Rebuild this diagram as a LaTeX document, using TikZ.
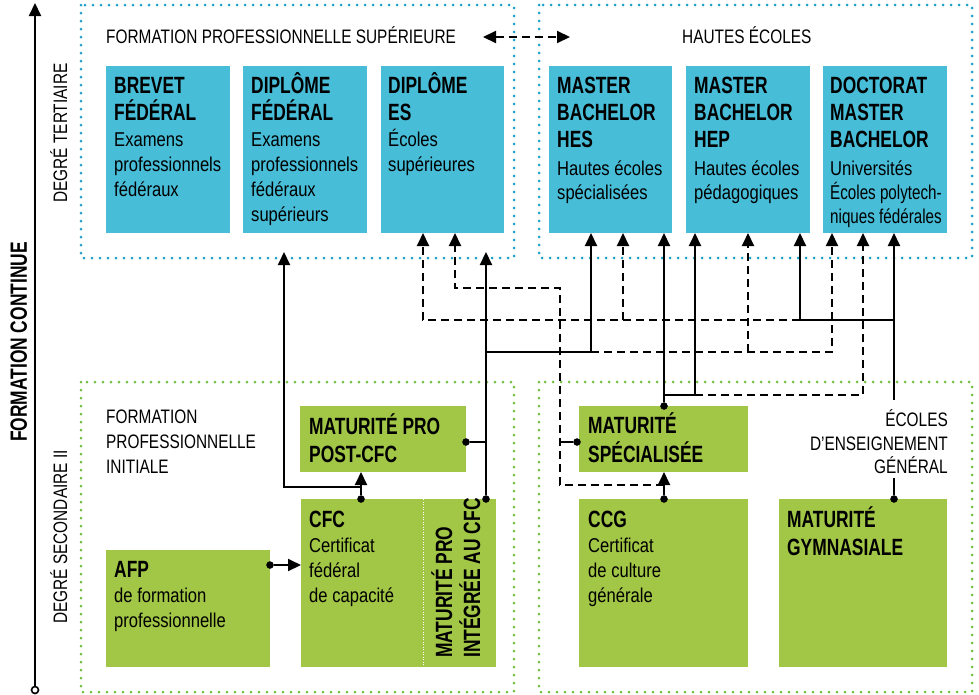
\documentclass[tikz,border=0pt]{standalone}
\usepackage{fontspec}
\setmainfont{Liberation Sans}
\newfontfamily\regf{Liberation Sans}[FakeStretch=0.83]
\newfontfamily\regn{Liberation Sans}[FakeStretch=0.76]
\newfontfamily\labf{Liberation Sans}[FakeStretch=0.79]
\newfontfamily\boldf{Liberation Sans}[FakeStretch=0.74]
\usetikzlibrary{arrows.meta}
\definecolor{tblue}{HTML}{47BDD8}
\definecolor{dblue}{HTML}{1E9FC8}
\definecolor{tgreen}{HTML}{A2C646}
\definecolor{dgreen}{HTML}{74BE3F}
\begin{document}
\begin{tikzpicture}[x=1pt,y=-1pt,
  bbox/.style={fill=tblue, draw=none, inner sep=0, outer sep=0, anchor=north west},
  gbox/.style={fill=tgreen, draw=none, inner sep=0, outer sep=0, anchor=north west},
  tb/.style={font=\boldf\bfseries\fontsize{23.5}{27}\selectfont, inner sep=0, anchor=base west},
  tr/.style={font=\regf\fontsize{20}{25}\selectfont, inner sep=0, anchor=base west},
  trn/.style={font=\regn\fontsize{20}{25}\selectfont, inner sep=0, anchor=base west},
  lab/.style={font=\labf\fontsize{19.5}{24}\selectfont, inner sep=0, anchor=base west},
  region/.style={line width=3pt, dash pattern=on 0pt off 8pt, line cap=round},
  conn/.style={line width=2pt, black},
  dconn/.style={conn, dash pattern=on 8pt off 5pt},
  arr/.style={-{Triangle[length=13pt,width=12pt]}},
  dotn/.style={circle, fill=black, draw=black, inner sep=0, minimum size=7pt},
]
\useasboundingbox (0,0) rectangle (979,694);

% regions
\draw[region, dblue] (81,5) rectangle (514,258);
\draw[region, dblue] (539,5) rectangle (972,258);
\draw[region, dgreen] (81,382) rectangle (514,692);
\draw[region, dgreen] (539,382) rectangle (972,692);

% axis
\coordinate (axbot) at (35,690);
\coordinate (axtop) at (35,3);
\draw[conn, arr] (axbot) -- (axtop);
\node[circle, draw=black, fill=white, line width=1.6pt, inner sep=0, minimum size=7pt] (axdot) at (axbot) {};
\node[font=\boldf\bfseries\fontsize{23.5}{27}\selectfont, rotate=90, anchor=base, inner sep=0] (fc) at (27,342) {FORMATION CONTINUE};
\node[lab, rotate=90, anchor=base] (dt) at (67,133) {DEGRÉ TERTIAIRE};
\node[lab, rotate=90, anchor=base] (ds) at (67,537) {DEGRÉ SECONDAIRE II};

% top labels
\node[lab] (fps) at (106,43) {FORMATION PROFESSIONNELLE SUPÉRIEURE};
\node[lab] (he) at (682,43) {HAUTES ÉCOLES};
\coordinate (dal) at (483,37);
\coordinate (dar) at (570,37);
\draw[dconn, {Triangle[length=13pt,width=12pt]}-{Triangle[length=13pt,width=12pt]}] (dal) -- (dar);

% blue boxes
\node[bbox, minimum width=124pt, minimum height=167pt] (brevet) at (106,66) {};
\node[bbox, minimum width=124pt, minimum height=167pt] (dipfed) at (243,66) {};
\node[bbox, minimum width=123pt, minimum height=167pt] (dipes) at (381,66) {};
\node[bbox, minimum width=123pt, minimum height=167pt] (hes) at (549,66) {};
\node[bbox, minimum width=124pt, minimum height=167pt] (hep) at (686,66) {};
\node[bbox, minimum width=124pt, minimum height=167pt] (doct) at (823,66) {};

\node[tb] (brevet1) at (114,93) {BREVET};
\node[tb] (brevet2) at (114,120) {FÉDÉRAL};
\node[tr] (brevet3) at (114,146) {Examens};
\node[tr] (brevet4) at (114,171) {professionnels};
\node[tr] (brevet5) at (114,196) {fédéraux};

\node[tb] (dipfed1) at (251,93) {DIPLÔME};
\node[tb] (dipfed2) at (251,120) {FÉDÉRAL};
\node[tr] (dipfed3) at (251,146) {Examens};
\node[tr] (dipfed4) at (251,171) {professionnels};
\node[tr] (dipfed5) at (251,196) {fédéraux};
\node[tr] (dipfed6) at (251,221) {supérieurs};

\node[tb] (dipes1) at (388,93) {DIPLÔME};
\node[tb] (dipes2) at (388,120) {ES};
\node[tr] (dipes3) at (388,146) {Écoles};
\node[tr] (dipes4) at (388,171) {supérieures};

\node[tb] (hes1) at (557,93) {MASTER};
\node[tb] (hes2) at (557,120) {BACHELOR};
\node[tb] (hes3) at (557,147) {HES};
\node[tr] (hes4) at (557,175) {Hautes écoles};
\node[tr] (hes5) at (557,199) {spécialisées};

\node[tb] (hep1) at (694,93) {MASTER};
\node[tb] (hep2) at (694,120) {BACHELOR};
\node[tb] (hep3) at (694,147) {HEP};
\node[tr] (hep4) at (694,175) {Hautes écoles};
\node[tr] (hep5) at (694,199) {pédagogiques};

\node[tb] (doct1) at (830,93) {DOCTORAT};
\node[tb] (doct2) at (830,120) {MASTER};
\node[tb] (doct3) at (830,147) {BACHELOR};
\node[tr] (doct4) at (830,175) {Universités};
\node[trn] (doct5) at (830,199) {Écoles polytech-};
\node[trn] (doct6) at (830,223) {niques fédérales};

% secondary labels
\node[lab] (fpi1) at (106,423) {FORMATION};
\node[lab] (fpi2) at (106,448) {PROFESSIONNELLE};
\node[lab] (fpi3) at (106,473) {INITIALE};
\node[lab, anchor=base east] (eeg1) at (948,426) {ÉCOLES};
\node[lab, anchor=base east] (eeg2) at (948,450) {D’ENSEIGNEMENT};
\node[lab, anchor=base east] (eeg3) at (948,473) {GÉNÉRAL};

% green boxes
\node[gbox, minimum width=166pt, minimum height=66pt] (mppost) at (300,406) {};
\node[gbox, minimum width=122pt, minimum height=168pt] (cfc) at (301,499) {};
\node[gbox, minimum width=73pt, minimum height=168pt] (mpint) at (423,499) {};
\node[gbox, minimum width=164pt, minimum height=117pt] (afp) at (106,550) {};
\node[gbox, minimum width=169pt, minimum height=66pt] (ms) at (579,406) {};
\node[gbox, minimum width=169pt, minimum height=168pt] (ccg) at (579,499) {};
\node[gbox, minimum width=168pt, minimum height=168pt] (mg) at (779,499) {};
\draw[white, line width=0.8pt, dash pattern=on 1pt off 1.5pt] (cfc.north east) -- (cfc.south east);

\node[tb] (mppost1) at (309,434) {MATURITÉ PRO};
\node[tb] (mppost2) at (309,462) {POST-CFC};
\node[tb] (cfc1) at (309,527) {CFC};
\node[tr] (cfc2) at (309,552) {Certificat};
\node[tr] (cfc3) at (309,577) {fédéral};
\node[tr] (cfc4) at (309,602) {de capacité};
\node[tb, rotate=90] (mpint1) at (452,658) {MATURITÉ PRO};
\node[tb, rotate=90] (mpint2) at (480,658) {INTÉGRÉE AU CFC};
\node[tb] (afp1) at (114,577) {AFP};
\node[tr] (afp2) at (114,602) {de formation};
\node[tr] (afp3) at (114,627) {professionnelle};
\node[tb] (ms1) at (588,433) {MATURITÉ};
\node[tb] (ms2) at (588,462) {SPÉCIALISÉE};
\node[tb] (ccg1) at (588,527) {CCG};
\node[tr] (ccg2) at (588,552) {Certificat};
\node[tr] (ccg3) at (588,577) {de culture};
\node[tr] (ccg4) at (588,602) {générale};
\node[tb] (mg1) at (787,527) {MATURITÉ};
\node[tb] (mg2) at (787,555) {GYMNASIALE};

% junctions
\coordinate (j1) at (361,487);
\coordinate (j2) at (284,487);
\coordinate (tert1) at (284,252);
\coordinate (tert2) at (486,252);
\coordinate (j3) at (486,442);
\coordinate (j4) at (486,352);
\coordinate (j5) at (591,352);
\coordinate (j6) at (748,352);
\coordinate (j7) at (832,352);
\coordinate (j8) at (664,395);
\coordinate (j9) at (695,395);
\coordinate (j10) at (863,395);
\coordinate (egtop) at (894,400);
\coordinate (egbot) at (894,478);
\coordinate (j11) at (894,320);
\coordinate (j12) at (800,320);
\coordinate (j13) at (623,320);
\coordinate (j14) at (423,320);
\coordinate (j15) at (664,485);
\coordinate (j16) at (560,485);
\coordinate (j17) at (560,442);
\coordinate (j18) at (560,288);
\coordinate (j19) at (455,288);

% dots
\node[dotn] (dcfc) at (361,499) {};
\node[dotn] (dmpint) at (486,499) {};
\node[dotn] (dmppost) at (466,442) {};
\node[dotn] (dms) at (664,406) {};
\node[dotn] (dmsl) at (577,442) {};
\node[dotn] (dccg) at (664,499) {};
\node[dotn] (dmg) at (894,499) {};
\node[dotn] (dafp) at (270,565) {};

% dashed connectors
\draw[dconn, arr] (j5) -- (j7) -- (j7 |- doct.south);
\draw[dconn, arr] (j6) -- (j6 |- hep.south);
\draw[dconn, arr] (j9) -- (j10) -- (j10 |- doct.south);
\draw[dconn, arr] (j12) -- (j14) -- (j14 |- dipes.south);
\draw[dconn, arr] (j13) -- (j13 |- hes.south);
\draw[dconn, arr] (j15) -- (j16) -- (j18) -- (j19) -- (j19 |- dipes.south);

% solid connectors
\draw[conn, arr] (dcfc) -- (dcfc |- mppost.south);
\draw[conn, arr] (j1) -- (j2) -- (tert1);
\draw[conn, arr] (dmpint) -- (tert2);
\draw[conn] (dmppost) -- (j3);
\draw[conn, arr] (j4) -- (j5) -- (j5 |- hes.south);
\draw[conn, arr] (dms) -- (dms |- hes.south);
\draw[conn, arr] (j8) -- (j9) -- (j9 |- hep.south);
\draw[conn, arr] (egtop) -- (egtop |- doct.south);
\draw[conn, arr] (j11) -- (j12) -- (j12 |- hep.south);
\draw[conn, arr] (dccg) -- (dccg |- ms.south);
\draw[conn] (dmsl) -- (j17);
\draw[conn] (dmg) -- (egbot);
\draw[conn, arr] (dafp) -- (dafp -| cfc.west);
\end{tikzpicture}
\end{document}
